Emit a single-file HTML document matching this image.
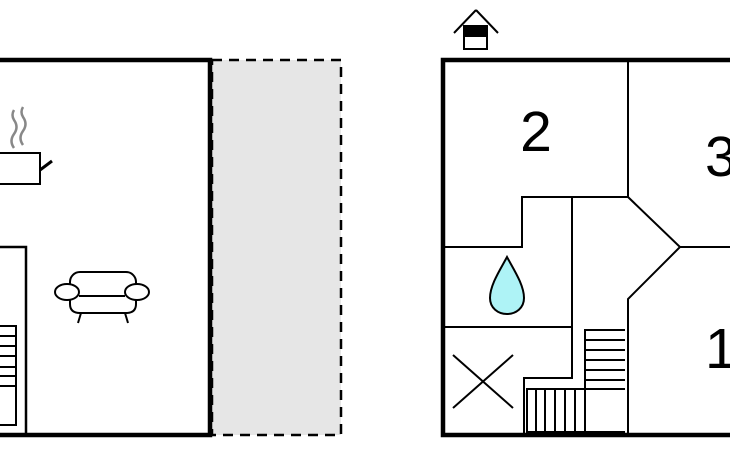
<!DOCTYPE html>
<html><head><meta charset="utf-8"><style>
html,body{margin:0;padding:0;background:#fff;}
svg{display:block;}
text{font-family:"Liberation Sans",sans-serif;}
</style></head><body>
<svg width="730" height="450" viewBox="0 0 730 450" xmlns="http://www.w3.org/2000/svg">
<!-- left plan -->
<rect x="212" y="60" width="129" height="375" fill="#e6e6e6" stroke="#000" stroke-width="2.5" stroke-dasharray="10,7"/>
<path d="M-5 60 H210 V435 H-5" fill="none" stroke="#000" stroke-width="4.5"/>
<path d="M-5 247 H26 V435" fill="none" stroke="#000" stroke-width="2.5"/>
<path d="M-5 326 H16 V425 H-5" fill="none" stroke="#000" stroke-width="2"/>
<g stroke="#000" stroke-width="2">
<line x1="-5" y1="336" x2="16" y2="336"/><line x1="-5" y1="346" x2="16" y2="346"/>
<line x1="-5" y1="356" x2="16" y2="356"/><line x1="-5" y1="367" x2="16" y2="367"/>
<line x1="-5" y1="376" x2="16" y2="376"/><line x1="-5" y1="386" x2="16" y2="386"/>
</g>
<!-- pot -->
<path d="M-5 153 H40 V184 H-5" fill="none" stroke="#000" stroke-width="2"/>
<line x1="40" y1="170" x2="52" y2="161" stroke="#000" stroke-width="3"/>
<path d="M14 148 q-5 -7 0 -14 q5 -7 0 -14 q-3 -5 0 -10" fill="none" stroke="#888" stroke-width="2.5"/>
<path d="M23 145 q-5 -7 0 -14 q5 -7 0 -14 q-3 -5 0 -10" fill="none" stroke="#888" stroke-width="2.5"/>
<!-- sofa -->
<g fill="#fff" stroke="#000" stroke-width="2">
<rect x="70" y="272" width="66" height="28" rx="10"/>
<path d="M70 296 V304 Q70 313 80 313 H126 Q136 313 136 304 V296"/>
<ellipse cx="67" cy="292" rx="12" ry="8"/>
<ellipse cx="137" cy="292" rx="12" ry="8"/>
<line x1="79" y1="296" x2="125" y2="296"/>
<line x1="81" y1="313" x2="78" y2="323"/>
<line x1="125" y1="313" x2="128" y2="323"/>
</g>
<!-- right plan -->
<path d="M476 10 L454 33 M476 10 L498 33" stroke="#000" stroke-width="2" fill="none"/>
<rect x="464" y="26" width="23" height="23" fill="#fff" stroke="#000" stroke-width="2"/>
<rect x="464" y="26" width="23" height="11" fill="#000"/>
<path d="M735 60 H443 V435 H735" fill="none" stroke="#000" stroke-width="4.5"/>
<g fill="none" stroke="#000" stroke-width="2">
<path d="M628 60 V197 H522 V247 H443"/>
<path d="M572 197 V378 H524 V435"/>
<path d="M443 327 H572"/>
<path d="M628 197 L680 247 L628 299 V435"/>
<path d="M680 247 H735"/>
<path d="M585 435 V330 H625"/>
<path d="M585 340 H625 M585 350 H625 M585 360 H625 M585 370 H625 M585 380 H625"/>
<path d="M526 389 H625 M526 432 H625"/>
<path d="M527 389 V432 M536 389 V432 M545 389 V432 M555 389 V432 M565 389 V432 M575 389 V432 M585 389 V432"/>
<path d="M453 355 L513 408 M513 355 L453 408"/>
</g>
<path d="M507 257 C500 270 490 285 490 298 C490 308 498 314 507 314 C516 314 524 308 524 298 C524 285 514 270 507 257 Z" fill="#aef3f6" stroke="#000" stroke-width="2"/>
<text x="536" y="151" font-size="57" text-anchor="middle">2</text>
<text x="705" y="176" font-size="57">3</text>
<text x="705" y="368" font-size="57">1</text>
</svg>
</body></html>
